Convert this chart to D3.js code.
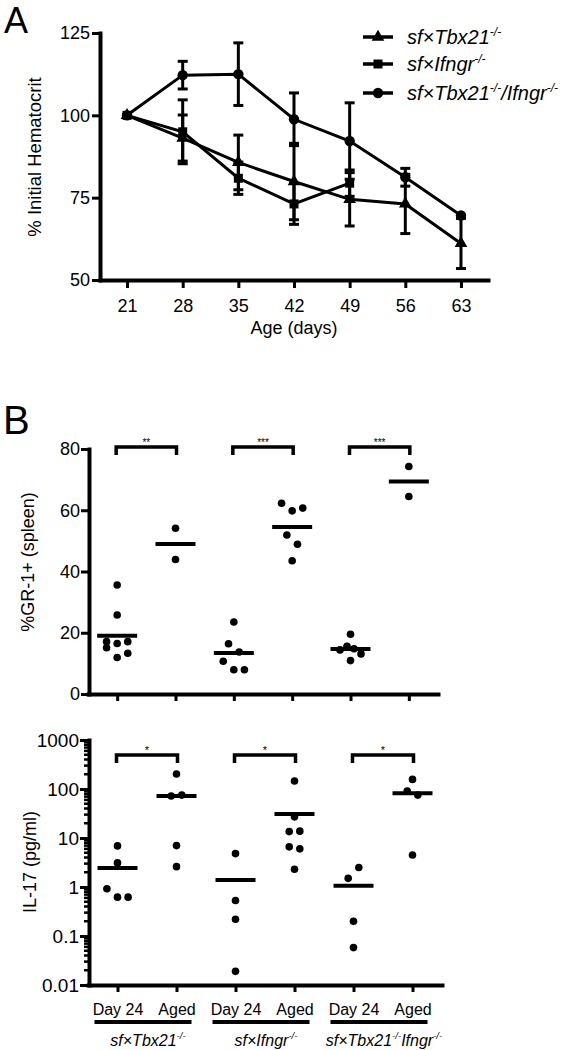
<!DOCTYPE html>
<html><head><meta charset="utf-8">
<script src="https://cdn.jsdelivr.net/npm/d3@7"></script>
<style>body{margin:0;background:#fff}svg text{font-family:Arial,"Liberation Sans",sans-serif;fill:#000}</style>
</head><body><svg id="c" width="579" height="1050"></svg>
<script>
// ---------- Panel A data ----------
const days = [21, 28, 35, 42, 49, 56, 63];
const yTicksA = [50, 75, 100, 125];
const tbxMean   = [100, 93.1, 85.7, 79.9, 74.5, 73.1, 61.1];
const tbxErr    = [0, 7.0, 8.3, 11.6, 8.1, 9.0, 7.6];
const ifngrMean = [100, 95.0, 80.9, 73.1, 79.4];
const ifngrErr  = [0, 9.7, 4.9, 6.2, 4.0];
const dkoMean   = [100, 112.2, 112.5, 98.8, 92.2, 81.2, 69.6];
const dkoErr    = [0, 4.2, 9.5, 8.0, 11.6, 2.7, 0];
const legendLabels = [
  [["sf×Tbx21", 0], ["-/-", 1]],
  [["sf×Ifngr", 0], ["-/-", 1]],
  [["sf×Tbx21", 0], ["-/-", 1], ["/Ifngr", 0], ["-/-", 1]]
];

// ---------- Panel B data ----------
const categories = ["Tbx21 Day 24", "Tbx21 Aged", "Ifngr Day 24", "Ifngr Aged", "DKO Day 24", "DKO Aged"];
const catLabels = ["Day 24", "Aged", "Day 24", "Aged", "Day 24", "Aged"];
const groupLabels = [
  [["sf×Tbx21", 0], ["-/-", 1]],
  [["sf×Ifngr", 0], ["-/-", 1]],
  [["sf×Tbx21", 0], ["-/-", 1], ["Ifngr", 0], ["-/-", 1]]
];
const gr1Ticks = [0, 20, 40, 60, 80];
const il17Ticks = [0.01, 0.1, 1, 10, 100, 1000];
// values grouped in rows of overlapping dots
const gr1Tbx21Day24 = [[35.6], [25.8], [17.1, 16.5, 17.1], [15.1, 11.9, 13.3]];
const gr1Tbx21Aged  = [[54.1], [43.9]];
const gr1IfngrDay24 = [[23.5], [16.4, 13.7], [10.7, 7.9, 7.9]];
const gr1IfngrAged  = [[62.3, 59.8, 60.7], [51.9, 48.9], [43.5]];
const gr1DkoDay24   = [[19.5], [14.4, 15.6, 14.8, 13.1], [10.9]];
const gr1DkoAged    = [[74.3], [64.5]];
const il17Tbx21Day24 = [[6.9], [3.1], [0.92, 0.62, 0.62]];
const il17Tbx21Aged  = [[202], [72, 75], [7.0], [2.6]];
const il17IfngrDay24 = [[4.8], [0.53], [0.22], [0.019]];
const il17IfngrAged  = [[146], [27], [13.5, 13.8], [6.6, 6.0], [2.3]];
const il17DkoDay24   = [[1.5, 2.5], [0.20], [0.058]];
const il17DkoAged    = [[157], [91, 75], [4.5]];
const sigGr1 = ["**", "***", "***"];
const sigIl17 = ["*", "*", "*"];

const gr1Data = [gr1Tbx21Day24, gr1Tbx21Aged, gr1IfngrDay24, gr1IfngrAged, gr1DkoDay24, gr1DkoAged];
const il17Data = [il17Tbx21Day24, il17Tbx21Aged, il17IfngrDay24, il17IfngrAged, il17DkoDay24, il17DkoAged];

const svg = d3.select("#c");

function styleAxis(g, fs) {
  g.attr("font-family", null).attr("font-size", null);
  g.select(".domain").attr("stroke", "#000").attr("stroke-width", 4).attr("stroke-linecap", "square");
  g.selectAll(".tick line").attr("stroke", "#000").attr("stroke-width", 3);
  g.selectAll(".tick text").attr("font-size", fs).attr("fill", "#000");
}
function rich(parent, x, y, parts, size, anchor, italic) {
  const t = parent.append("text").attr("x", x).attr("y", y).attr("font-size", size)
    .attr("text-anchor", anchor).attr("font-style", italic ? "italic" : "normal");
  let up = false;
  parts.forEach(([s, sup]) => {
    const ts = t.append("tspan").text(s);
    if (sup && !up) { ts.attr("dy", -size * 0.42).attr("font-size", size * 0.6); up = true; }
    else if (sup) { ts.attr("font-size", size * 0.6); }
    else if (!sup && up) { ts.attr("dy", size * 0.42); up = false; }
  });
  return t;
}

// ================= Panel A =================
const xA = d3.scaleLinear().domain([17.6, 66.4]).range([100, 488]);
const yA = d3.scaleLinear().domain([50, 125]).range([280, 33]);
svg.append("text").attr("x", 4).attr("y", 33).attr("font-size", 36).text("A");

const ayA = svg.append("g").attr("transform", "translate(100,0)")
  .call(d3.axisLeft(yA).tickValues(yTicksA).tickSize(8).tickSizeOuter(0).tickPadding(2));
styleAxis(ayA, 18);
const axA = svg.append("g").attr("transform", "translate(0,280)")
  .call(d3.axisBottom(xA).tickValues(days).tickSize(8).tickSizeOuter(0).tickPadding(11));
styleAxis(axA, 18);
svg.append("text").attr("x", 294).attr("y", 334).attr("text-anchor", "middle").attr("font-size", 18).text("Age (days)");
svg.append("text").attr("transform", "translate(41,157) rotate(-90)").attr("text-anchor", "middle")
  .attr("font-size", 18.5).text("% Initial Hematocrit");

const seriesA = [
  {mean: tbxMean, err: tbxErr, sym: d3.symbolTriangle, size: 70},
  {mean: ifngrMean, err: ifngrErr, sym: d3.symbolSquare, size: 81},
  {mean: dkoMean, err: dkoErr, sym: d3.symbolCircle, size: 85}
];
const line = d3.line().x(d => xA(d.x)).y(d => yA(d.y));
seriesA.forEach(s => {
  const pts = s.mean.map((m, i) => ({x: days[i], y: m, e: s.err[i]}));
  const g = svg.append("g");
  g.append("path").datum(pts).attr("d", line).attr("fill", "none").attr("stroke", "#000").attr("stroke-width", 3);
  pts.filter(p => p.e > 0).forEach(p => {
    const x = xA(p.x);
    g.append("line").attr("x1", x).attr("x2", x).attr("y1", yA(p.y - p.e)).attr("y2", yA(p.y + p.e))
      .attr("stroke", "#000").attr("stroke-width", 3);
    [p.y - p.e, p.y + p.e].forEach(v => g.append("line").attr("x1", x - 5).attr("x2", x + 5)
      .attr("y1", yA(v)).attr("y2", yA(v)).attr("stroke", "#000").attr("stroke-width", 3));
  });
  g.selectAll("path.m").data(pts).join("path").attr("class", "m")
    .attr("transform", d => `translate(${xA(d.x)},${yA(d.y)})`)
    .attr("d", d3.symbol().type(s.sym).size(s.size)).attr("fill", "#000");
});
// legend
const legY = [37, 64, 93];
seriesA.forEach((s, i) => {
  const y = legY[i];
  svg.append("line").attr("x1", 363).attr("x2", 393).attr("y1", y).attr("y2", y).attr("stroke", "#000").attr("stroke-width", 3.5);
  svg.append("path").attr("transform", `translate(378,${y})`).attr("d", d3.symbol().type(s.sym).size(s.size)).attr("fill", "#000");
  rich(svg, 407, y + 7, legendLabels[i], 20, "start", true);
});

// ================= Panel B =================
svg.append("text").attr("x", 3).attr("y", 434).attr("font-size", 40).text("B");

const xT = d3.scalePoint().domain(categories).range([88, 438]).padding(0.5);
const yT = d3.scaleLinear().domain([0, 80]).range([694, 449]);
const xL = d3.scalePoint().domain(categories).range([88, 442]).padding(0.5);
const yL = d3.scaleLog().domain([0.01, 1000]).range([985, 740]);

const ayT = svg.append("g").attr("transform", "translate(89,0)")
  .call(d3.axisLeft(yT).tickValues(gr1Ticks).tickSize(8).tickSizeOuter(0).tickPadding(1));
styleAxis(ayT, 18);
const axT = svg.append("g").attr("transform", "translate(0,694)")
  .call(d3.axisBottom(xT).tickSize(7).tickSizeOuter(0).tickFormat(""));
styleAxis(axT, 16);

const ayL = svg.append("g").attr("transform", "translate(89,0)")
  .call(d3.axisLeft(yL).tickValues(il17Ticks).tickFormat(d => String(d)).tickSize(9).tickSizeOuter(0).tickPadding(1));
styleAxis(ayL, 19);
// minor log ticks
const minor = [];
il17Ticks.slice(0, -1).forEach(d => { for (let k = 2; k <= 9; k++) minor.push(d * k); });
svg.append("g").selectAll("line").data(minor).join("line")
  .attr("x1", 84).attr("x2", 89).attr("y1", d => yL(d)).attr("y2", d => yL(d))
  .attr("stroke", "#000").attr("stroke-width", 2.5);
const axL = svg.append("g").attr("transform", "translate(0,985)")
  .call(d3.axisBottom(xL).tickSize(7).tickSizeOuter(0).tickPadding(12).tickFormat((d, i) => catLabels[i]));
styleAxis(axL, 16);

svg.append("text").attr("transform", "translate(34,562) rotate(-90)").attr("text-anchor", "middle")
  .attr("font-size", 18).text("%GR-1+ (spleen)");
svg.append("text").attr("transform", "translate(36,862) rotate(-90)").attr("text-anchor", "middle")
  .attr("font-size", 18).text("IL-17 (pg/ml)");

// group underline bars + labels
for (let gi = 0; gi < 3; gi++) {
  const a = xL(categories[gi * 2]), b = xL(categories[gi * 2 + 1]);
  svg.append("line").attr("x1", a - 23).attr("x2", b + 15).attr("y1", 1022).attr("y2", 1022)
    .attr("stroke", "#000").attr("stroke-width", 4);
  rich(svg, (a + b) / 2 + 1, 1046, groupLabels[gi], 16, "middle", true);
}

function dots(data, xs, ys, r) {
  const g = svg.append("g");
  data.forEach((rows, ci) => {
    const cx = xs(categories[ci]);
    rows.forEach(row => {
      const n = row.length, step = n <= 3 ? 10.6 : 7;
      row.forEach((v, i) => {
        g.append("circle").attr("cx", cx + (i - (n - 1) / 2) * step).attr("cy", ys(v)).attr("r", r).attr("fill", "#000");
      });
    });
    const m = d3.mean(rows.flat());
    g.append("line").attr("x1", cx - 20).attr("x2", cx + 20).attr("y1", ys(m)).attr("y2", ys(m))
      .attr("stroke", "#000").attr("stroke-width", 4);
  });
}
dots(gr1Data, xT, yT, 3.8);
dots(il17Data, xL, yL, 3.8);

function brackets(xs, yb, sig, fs) {
  sig.forEach((s, gi) => {
    const a = xs(categories[gi * 2]) - 1, b = xs(categories[gi * 2 + 1]) + 1;
    svg.append("path").attr("d", `M${a},${yb + 8}V${yb}H${b}V${yb + 8}`).attr("fill", "none")
      .attr("stroke", "#000").attr("stroke-width", 3.5);
    svg.append("text").attr("x", (a + b) / 2).attr("y", yb - 1).attr("text-anchor", "middle")
      .attr("font-size", fs).text(s);
  });
}
brackets(xT, 447, sigGr1, 10);
brackets(xL, 755, sigIl17, 11);
</script></body></html>
